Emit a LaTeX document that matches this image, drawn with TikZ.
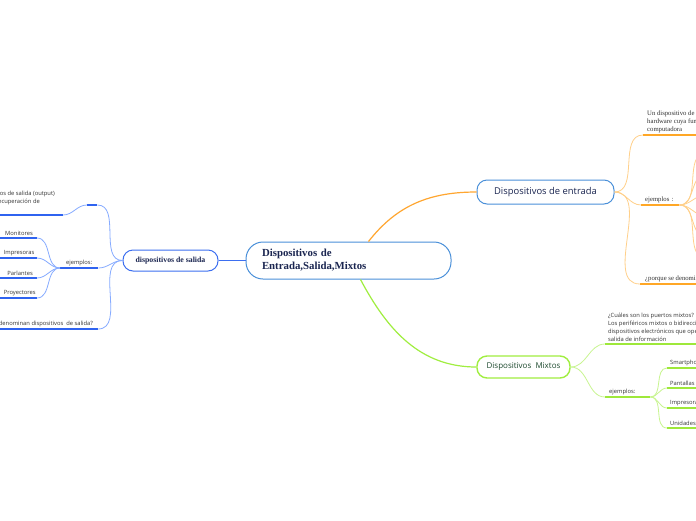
\documentclass[tikz,border=0pt]{standalone}
\usepackage{fontspec}
\setmainfont{Liberation Serif}
\setsansfont{Open Sans}
\usetikzlibrary{positioning}

\definecolor{navy}{HTML}{1A2550}
\definecolor{rootblue}{HTML}{4A90D9}
\definecolor{saliblue}{HTML}{3D6FF0}
\definecolor{thinblue}{HTML}{86ABFF}
\definecolor{undblue}{HTML}{2F63F0}
\definecolor{mainorange}{HTML}{FFA630}
\definecolor{thinorange}{HTML}{FFD08A}
\definecolor{undorange}{HTML}{FFA726}
\definecolor{maingreen}{HTML}{A0EE40}
\definecolor{thingreen}{HTML}{C8F590}
\definecolor{undgreen}{HTML}{9EE83A}
\definecolor{mixgreen}{HTML}{1D4A2E}
\definecolor{leafgray}{HTML}{333333}

\tikzset{
  topic/.style={draw,line width=1pt,rounded corners=10pt,inner sep=0pt},
  leaf/.style={inner xsep=4pt,inner ysep=2pt,text=leafgray,
    font=\sffamily\fontsize{5.8}{8}\selectfont},
  sleaf/.style={leaf,font=\rmfamily\fontsize{6.7}{8}\selectfont},
  under/.style={append after command={(\tikzlastnode.south west)
    edge[draw=#1,line width=1.8pt] (\tikzlastnode.south east)}},
  bline/.style={draw=thinblue,line width=0.8pt},
  oline/.style={draw=thinorange,line width=0.8pt},
  gline/.style={draw=thingreen,line width=0.8pt}
}

\begin{document}
\begin{tikzpicture}[x=1pt,y=-1pt]
  \useasboundingbox (0,0) rectangle (696,520);
  \clip (0,0) rectangle (696,520);
  \fill[white] (0,0) rectangle (696,520);

  % main topics
  \node[topic,draw=rootblue,rounded corners=17pt,minimum width=205pt,minimum height=37pt,
        text width=173pt,align=left,text=navy,font=\bfseries\fontsize{10.8}{13}\selectfont]
        (c) at (348.5,260.5) {Dispositivos de\\Entrada,Salida,Mixtos};
  \node[topic,draw=saliblue,minimum width=95pt,minimum height=21pt,text=navy,
        font=\bfseries\fontsize{7.8}{9}\selectfont] (s) at (170.5,260.5) {dispositivos de salida};
  \node[topic,draw=rootblue,minimum width=137pt,minimum height=24pt,text=navy,
        font=\sffamily\fontsize{9.4}{11}\selectfont] (e) at (545.5,192) {Dispositivos de entrada};
  \node[topic,draw=maingreen,line width=1.4pt,minimum width=93pt,minimum height=22pt,text=mixgreen,
        font=\sffamily\fontsize{8}{9}\selectfont] (m) at (523.5,367) {Dispositivos\ \ Mixtos};

  \draw[draw=saliblue,line width=1.1pt] (c.west) -- (s.east);
  \draw[draw=mainorange,line width=1.2pt] ([xshift=20pt]c.north) to[out=52,in=180] (e.west);
  \draw[draw=maingreen,line width=1.2pt] ([xshift=12pt]c.south) to[out=-62,in=180] (m.west);

  % salida
  \node[leaf,under=undblue,minimum width=10pt,minimum height=1pt,inner sep=0pt,anchor=south west]
        (so1) at (87,205) {};
  \node[leaf,under=undblue,align=left,inner xsep=8pt,inner ysep=10pt,anchor=south east]
        (so1a) at (63,215) {Los dispositivos de salida (output)\\permiten la recuperación de};
  \node[leaf,under=undblue,minimum width=38pt,anchor=south west] (so2) at (60,268) {ejemplos:};
  \foreach \n/\y/\t in {so2a/238/Monitores,so2b/258/Impresoras,so2c/278/Parlantes,so2d/298/Proyectores}{
    \node[leaf,under=undblue,text width=29pt,align=right,anchor=south east] (\n) at (37,\y) {\t};
    \draw[bline] (so2.south west) to[out=180,in=0] (\n.south east);
  }
  \node[leaf,under=undblue,inner xsep=5pt,anchor=south east] (so3) at (98,329)
        {¿Por qué se denominan dispositivos\ \ de salida?};
  \draw[bline] (s.west) to[out=180,in=0] (so1.south east);
  \draw[bline] (so1.south west) to[out=180,in=0] (so1a.south east);
  \draw[bline] (s.west) to[out=180,in=0] (so2.south east);
  \draw[bline] (s.west) to[out=180,in=0] (so3.south east);

  % entrada
  \node[sleaf,under=undorange,align=left,anchor=south west] (eo1) at (643,135)
        {Un dispositivo de entrada es un periférico de\\hardware cuya función es enviar datos a la\\computadora};
  \node[sleaf,under=undorange,text width=30pt,align=left,anchor=south west] (eo2) at (641,205) {ejemplos :};
  \node[sleaf,under=undorange,inner xsep=5pt,anchor=south west] (eo3) at (640,284)
        {¿porque se denominan dispositivos de entrada?};
  \foreach \i/\y in {1/153,2/174,3/195,4/216,5/237,6/258}{
    \coordinate (ex\i) at (706,\y);
    \draw[oline] (eo2.south east) to[out=0,in=180] (ex\i);
  }
  \foreach \n in {eo1,eo2,eo3}
    \draw[oline] (e.east) to[out=0,in=180] (\n.south west);

  % mixtos
  \node[leaf,under=undgreen,inner xsep=3pt,align=left,anchor=south west] (mo1) at (605,344)
        {¿Cuáles son los puertos mixtos?\\Los periféricos mixtos o bidireccionales son\\dispositivos electrónicos que operan con entrada y\\salida de información};
  \node[leaf,under=undgreen,text width=37pt,align=left,anchor=south west] (mo2) at (605,397) {ejemplos:};
  \foreach \n/\y/\t in {mo2a/368/Smartphones,mo2b/388/Pantallas táctiles,mo2c/408/Impresoras multifuncionales,mo2d/428/Unidades de almacenamiento}{
    \node[leaf,under=undgreen,inner xsep=3pt,anchor=south west] (\n) at (667,\y) {\t};
    \draw[gline] (mo2.south east) to[out=0,in=180] (\n.south west);
  }
  \draw[gline] (m.east) to[out=0,in=180] (mo1.south west);
  \draw[gline] (m.east) to[out=0,in=180] (mo2.south west);
\end{tikzpicture}
\end{document}
